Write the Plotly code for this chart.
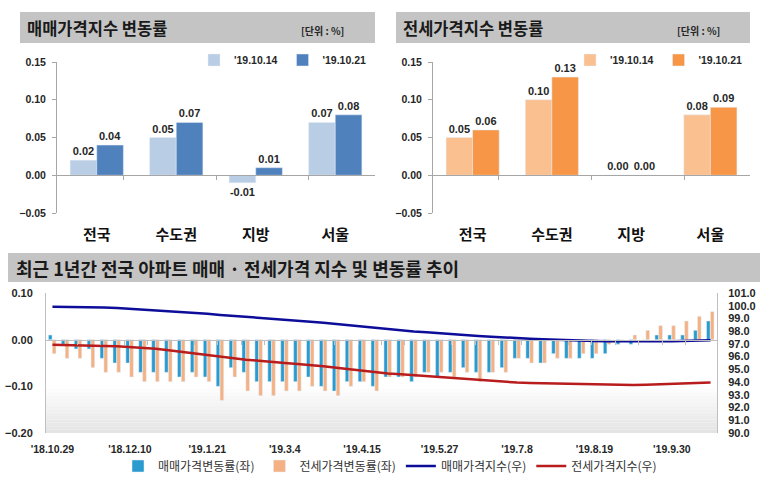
import plotly.graph_objects as go

# ---------------- data ----------------
regions = ["전국", "수도권", "지방", "서울"]
week_labels = ["'19.10.14", "'19.10.21"]
sale_prev = [0.02, 0.05, -0.01, 0.07]
sale_curr = [0.04, 0.07, 0.01, 0.08]
jeonse_prev = [0.05, 0.10, 0.00, 0.08]
jeonse_curr = [0.06, 0.13, 0.00, 0.09]

dates = ["'18.10.29", "'18.11.5", "'18.11.12", "'18.11.19", "'18.11.26", "'18.12.3",
         "'18.12.10", "'18.12.17", "'18.12.24", "'18.12.31", "'19.1.7", "'19.1.14",
         "'19.1.21", "'19.1.28", "'19.2.4", "'19.2.11", "'19.2.18", "'19.2.25",
         "'19.3.4", "'19.3.11", "'19.3.18", "'19.3.25", "'19.4.1", "'19.4.8",
         "'19.4.15", "'19.4.22", "'19.4.29", "'19.5.6", "'19.5.13", "'19.5.20",
         "'19.5.27", "'19.6.3", "'19.6.10", "'19.6.17", "'19.6.24", "'19.7.1",
         "'19.7.8", "'19.7.15", "'19.7.22", "'19.7.29", "'19.8.5", "'19.8.12",
         "'19.8.19", "'19.8.26", "'19.9.2", "'19.9.9", "'19.9.16", "'19.9.23",
         "'19.9.30", "'19.10.7", "'19.10.14", "'19.10.21"]
tick_dates = ["'18.10.29", "'18.12.10", "'19.1.21", "'19.3.4", "'19.4.15",
              "'19.5.27", "'19.7.8", "'19.8.19", "'19.9.30"]

sale_change = [0.01, -0.01, -0.02, -0.02, -0.04, -0.05, -0.05, -0.07, -0.07, -0.07,
               -0.08, -0.07, -0.08, -0.10, -0.06, -0.07, -0.09, -0.09, -0.09, -0.09,
               -0.08, -0.10, -0.11, -0.09, -0.09, -0.10, -0.08, -0.08, -0.09, -0.07,
               -0.08, -0.07, -0.06, -0.07, -0.07, -0.06, -0.04, -0.04, -0.05, -0.03,
               -0.04, -0.04, -0.04, -0.03, -0.01, -0.01, 0.00, 0.01, 0.01, 0.01,
               0.02, 0.04]
jeonse_change = [-0.03, -0.04, -0.04, -0.06, -0.07, -0.07, -0.08, -0.09, -0.09, -0.09,
                 -0.09, -0.08, -0.09, -0.13, -0.08, -0.11, -0.12, -0.12, -0.11, -0.11,
                 -0.10, -0.11, -0.12, -0.10, -0.09, -0.11, -0.08, -0.08, -0.08, -0.07,
                 -0.07, -0.08, -0.07, -0.09, -0.07, -0.07, -0.04, -0.05, -0.05, -0.04,
                 -0.04, -0.03, -0.03, -0.01, 0.00, 0.01, 0.02, 0.03, 0.03, 0.04,
                 0.05, 0.06]
sale_index = [99.92, 99.92, 99.91, 99.90, 99.87, 99.82, 99.76, 99.70, 99.65, 99.60,
              99.52, 99.45, 99.37, 99.28, 99.21, 99.15, 99.07, 98.98, 98.90, 98.82,
              98.75, 98.66, 98.56, 98.47, 98.38, 98.24, 98.16, 98.07, 97.98, 97.91,
              97.83, 97.76, 97.70, 97.63, 97.57, 97.50, 97.45, 97.41, 97.37, 97.32,
              97.29, 97.25, 97.22, 97.20, 97.19, 97.19, 97.19, 97.20, 97.21, 97.22,
              97.24, 97.28]
jeonse_index = [96.93, 96.92, 96.90, 96.87, 96.84, 96.81, 96.76, 96.69, 96.61, 96.50,
                96.38, 96.27, 96.14, 96.00, 95.86, 95.76, 95.68, 95.57, 95.50, 95.43,
                95.35, 95.25, 95.13, 95.01, 94.88, 94.76, 94.68, 94.62, 94.55, 94.47,
                94.38, 94.30, 94.23, 94.16, 94.08, 94.01, 93.96, 93.93, 93.91, 93.89,
                93.85, 93.82, 93.79, 93.77, 93.76, 93.77, 93.80, 93.83, 93.87, 93.90,
                93.93, 93.97]

# ---------------- style ----------------
W, H = 769, 488
KR = "Noto Sans CJK KR, sans-serif"
NUM = "Liberation Sans, Arial, sans-serif"
TXT = "#262626"
AX = "#a6a6a6"
HEAD = "#c4c4c4"


def px(x):
    return x / W


def py(y):
    return 1 - y / H


p1x = [px(57), px(375)]
p2x = [px(433), px(750)]
ptop_y = [py(213), py(62)]
p3x = [px(46), px(717)]
p3y = [py(433), py(293)]

top_range = [-0.05, 0.15]
bot_range = [-0.20, 0.10]
idx_range = [90, 101]


def zero_pos(dom, rng):
    return dom[0] + (0 - rng[0]) / (rng[1] - rng[0]) * (dom[1] - dom[0])


fig = go.Figure()

bar_text = dict(family=NUM, size=11, color=TXT, weight="bold")

# panel 1 : 매매
fig.add_trace(go.Bar(x=regions, y=sale_prev, name=week_labels[0], marker_color="#b9cde5",
                     xaxis="x", yaxis="y", legend="legend", texttemplate="%{y:.2f}",
                     textposition="outside", textfont=bar_text, cliponaxis=False))
fig.add_trace(go.Bar(x=regions, y=sale_curr, name=week_labels[1], marker_color="#4f81bd",
                     xaxis="x", yaxis="y", legend="legend", texttemplate="%{y:.2f}",
                     textposition="outside", textfont=bar_text, cliponaxis=False))
# panel 2 : 전세
fig.add_trace(go.Bar(x=regions, y=jeonse_prev, name=week_labels[0], marker_color="#fac090",
                     xaxis="x2", yaxis="y2", legend="legend2", texttemplate="%{y:.2f}",
                     textposition="outside", textfont=bar_text, cliponaxis=False))
fig.add_trace(go.Bar(x=regions, y=jeonse_curr, name=week_labels[1], marker_color="#f79646",
                     xaxis="x2", yaxis="y2", legend="legend2", texttemplate="%{y:.2f}",
                     textposition="outside", textfont=bar_text, cliponaxis=False))

# invisible helpers so the zero-line tick axes know the categories
for xa, ya, cats in [("x4", "y", regions), ("x5", "y2", regions), ("x6", "y3", dates)]:
    fig.add_trace(go.Scatter(x=cats, y=[0] * len(cats), xaxis=xa, yaxis=ya, mode="markers",
                             marker=dict(opacity=0), showlegend=False, hoverinfo="skip"))

# bottom chart
fig.add_trace(go.Bar(x=dates, y=sale_change, name="매매가격변동률(좌)", marker_color="#2a9bcf",
                     xaxis="x3", yaxis="y3", legend="legend3", width=0.28, offset=-0.31))
fig.add_trace(go.Bar(x=dates, y=jeonse_change, name="전세가격변동률(좌)", marker_color="#f4b183",
                     xaxis="x3", yaxis="y3", legend="legend3", width=0.28, offset=-0.01))
fig.add_trace(go.Scatter(x=dates, y=sale_index, name="매매가격지수(우)", mode="lines",
                         line=dict(color="#0d0d9a", width=2.5), xaxis="x3", yaxis="y4",
                         legend="legend3"))
fig.add_trace(go.Scatter(x=dates, y=jeonse_index, name="전세가격지수(우)", mode="lines",
                         line=dict(color="#b81c1c", width=2.5), xaxis="x3", yaxis="y4",
                         legend="legend3"))

num_tick = dict(family=NUM, size=10.5, color=TXT, weight="bold")
cat_font = dict(family=KR, size=15, color="#111111", weight="bold")

ytop = dict(range=top_range, dtick=0.05, tick0=0, tickformat=".2f", showline=True,
            linecolor=AX, ticks="outside", ticklen=4, tickcolor=AX, showgrid=False,
            zeroline=False, tickfont=num_tick, ticklabelstandoff=4, automargin=False)
xtop = dict(showline=False, ticks="", showgrid=False, tickfont=cat_font,
            ticklabelstandoff=11, automargin=False)
xzero = dict(showline=True, ticks="outside", ticklen=4, tickson="boundaries",
             showticklabels=False, showgrid=False, anchor="free", automargin=False)

fig.update_layout(
    width=W, height=H, margin=dict(l=0, r=0, t=0, b=0, autoexpand=False),
    paper_bgcolor="white", plot_bgcolor="rgba(0,0,0,0)",
    barmode="group", bargap=0.33, bargroupgap=0,
    xaxis=dict(domain=p1x, anchor="y", **xtop),
    yaxis=dict(domain=ptop_y, anchor="x", **ytop),
    xaxis2=dict(domain=p2x, anchor="y2", **xtop),
    yaxis2=dict(domain=ptop_y, anchor="x2", **ytop),
    xaxis4=dict(overlaying="x", position=zero_pos(ptop_y, top_range), linecolor=AX,
                tickcolor=AX, **xzero),
    xaxis5=dict(overlaying="x2", position=zero_pos(ptop_y, top_range), linecolor=AX,
                tickcolor=AX, **xzero),
    xaxis3=dict(domain=p3x, anchor="y3", showline=False, ticks="", showgrid=False,
                tickvals=tick_dates, ticktext=tick_dates, tickangle=0,
                tickfont=dict(family=NUM, size=10.5, color=TXT, weight="bold"),
                ticklabelstandoff=8, automargin=False),
    xaxis6=dict(overlaying="x3", position=zero_pos(p3y, bot_range), linecolor="#bfbfbf",
                tickcolor="#bfbfbf", **xzero),
    yaxis3=dict(domain=p3y, anchor="x3", range=bot_range, dtick=0.1, tick0=0,
                tickformat=".2f", showline=True, linecolor="#bfbfbf", ticks="",
                showgrid=False, zeroline=False, automargin=False,
                tickfont=dict(family=NUM, size=11, color=TXT, weight="bold"),
                ticklabelstandoff=10),
    yaxis4=dict(overlaying="y3", side="right", anchor="x3", range=idx_range, dtick=1,
                tick0=90, tickformat=".1f", showline=True, linecolor="#bfbfbf", ticks="",
                showgrid=False, zeroline=False, automargin=False,
                tickfont=dict(family=NUM, size=11, color=TXT, weight="bold"),
                ticklabelstandoff=8),
    legend=dict(orientation="h", x=px(372), xanchor="right", y=py(60), yanchor="middle",
                font=dict(family=NUM, size=10.5, color=TXT, weight="bold"),
                bgcolor="rgba(0,0,0,0)", itemwidth=30, tracegroupgap=0),
    legend2=dict(orientation="h", x=px(748), xanchor="right", y=py(60), yanchor="middle",
                 font=dict(family=NUM, size=10.5, color=TXT, weight="bold"),
                 bgcolor="rgba(0,0,0,0)", itemwidth=30),
    legend3=dict(orientation="h", x=px(390), xanchor="center", y=py(466), yanchor="middle",
                 font=dict(family=KR, size=12, color="#333333"),
                 bgcolor="rgba(0,0,0,0)", itemwidth=30),
    showlegend=True,
)

# header bars
shapes = []
for x0, x1, y0, y1 in [(20, 375, 12, 43), (396, 750, 12, 43), (8, 760, 253, 282)]:
    shapes.append(dict(type="rect", xref="paper", yref="paper", x0=px(x0), x1=px(x1),
                       y0=py(y1), y1=py(y0), fillcolor=HEAD, line=dict(width=0),
                       layer="below"))
# soft gradient at the bottom of the lower plot area
n = 14
for i in range(n):
    f0 = 0.34 * i / n
    f1 = 0.34 * (i + 1) / n
    g = int(228 + (255 - 228) * (i + 0.5) / n)
    shapes.append(dict(type="rect", xref="x3 domain", yref="y3 domain", x0=0, x1=1,
                       y0=f0, y1=f1, fillcolor=f"rgb({g},{g},{g})", line=dict(width=0),
                       layer="below"))
fig.update_layout(shapes=shapes)

title_font = dict(family=KR, size=16.5, color="#1a1a1a", weight="bold")
unit_font = dict(family=KR, size=10, color=TXT, weight="bold")
fig.add_annotation(text="매매가격지수 변동률", x=px(25), y=py(28), xref="paper", yref="paper",
                   xanchor="left", yanchor="middle", showarrow=False, font=title_font)
fig.add_annotation(text="[단위 : %]", x=px(346), y=py(31), xref="paper", yref="paper",
                   xanchor="right", yanchor="middle", showarrow=False, font=unit_font)
fig.add_annotation(text="전세가격지수 변동률", x=px(401), y=py(28), xref="paper", yref="paper",
                   xanchor="left", yanchor="middle", showarrow=False, font=title_font)
fig.add_annotation(text="[단위 : %]", x=px(722), y=py(31), xref="paper", yref="paper",
                   xanchor="right", yanchor="middle", showarrow=False, font=unit_font)
fig.add_annotation(text="최근 1년간 전국 아파트 매매 · 전세가격 지수 및 변동률 추이",
                   x=px(14), y=py(268), xref="paper", yref="paper", xanchor="left",
                   yanchor="middle", showarrow=False,
                   font=dict(family=KR, size=18, color="#1a1a1a", weight="bold"))

fig.write_html("out.html", config={"displayModeBar": False},
               post_script="document.body.style.margin='0';")
